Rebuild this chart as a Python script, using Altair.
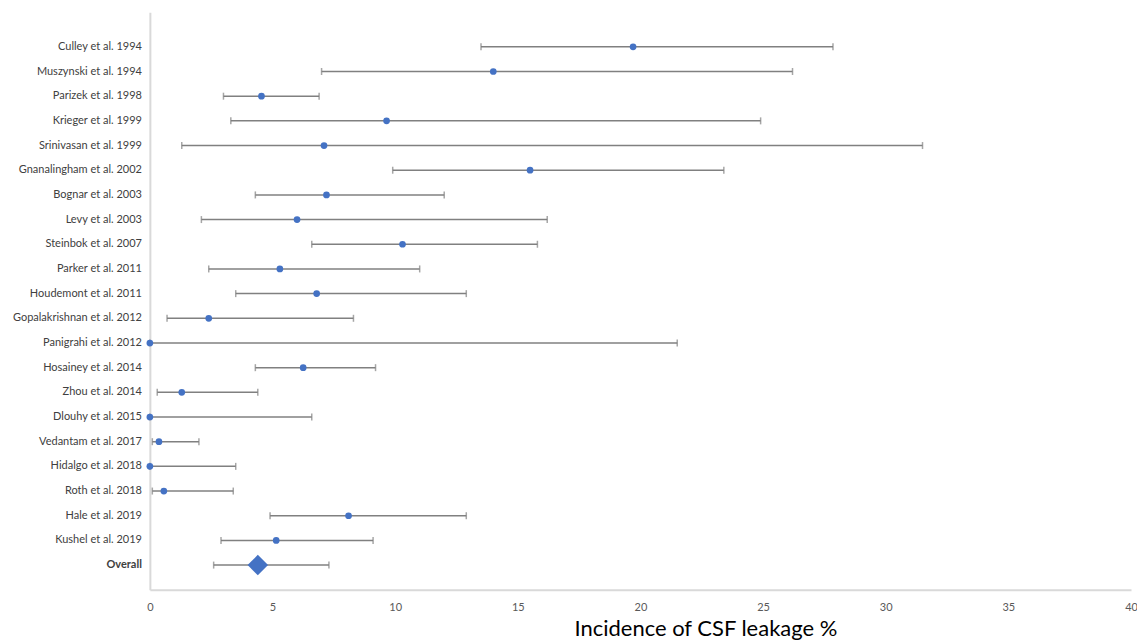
import altair as alt
import pandas as pd

studies = ["Culley et al. 1994", "Muszynski et al. 1994", "Parizek et al. 1998",
           "Krieger et al. 1999", "Srinivasan et al. 1999", "Gnanalingham et al. 2002",
           "Bognar et al. 2003", "Levy et al. 2003", "Steinbok et al. 2007",
           "Parker et al. 2011", "Houdemont et al. 2011", "Gopalakrishnan et al. 2012",
           "Panigrahi et al. 2012", "Hosainey et al. 2014", "Zhou et al. 2014",
           "Dlouhy et al. 2015", "Vedantam et al. 2017", "Hidalgo et al. 2018",
           "Roth et al. 2018", "Hale et al. 2019", "Kushel et al. 2019", "Overall"]
estimate = [19.7, 14.0, 4.55, 9.65, 7.1, 15.5, 7.2, 6.0, 10.3, 5.3, 6.8, 2.4, 0.0,
            6.25, 1.3, 0.0, 0.37, 0.0, 0.57, 8.1, 5.15, 4.4]
lower = [13.5, 7.0, 3.0, 3.3, 1.3, 9.9, 4.3, 2.1, 6.6, 2.4, 3.5, 0.7, 0.0,
         4.3, 0.3, 0.0, 0.1, 0.0, 0.1, 4.9, 2.9, 2.6]
upper = [27.85, 26.2, 6.9, 24.9, 31.5, 23.4, 12.0, 16.2, 15.8, 11.0, 12.9, 8.3, 21.5,
         9.2, 4.4, 6.6, 2.0, 3.5, 3.4, 12.9, 9.1, 7.3]
x_ticks = [0, 5, 10, 15, 20, 25, 30, 35, 40]

n = len(studies)
df = pd.DataFrame({
    "study": studies,
    "est": estimate,
    "lo": lower,
    "hi": upper,
    "row": [n - i for i in range(n)],
    "kind": ["study"] * (n - 1) + ["overall"],
})

x_scale = alt.Scale(domain=[0, 40], nice=False, zero=True)
y_scale = alt.Scale(domain=[0, 23.4], nice=False, zero=True)

x_axis = alt.Axis(values=x_ticks, grid=False, ticks=False, domainColor="#d9d9d9",
                  domainWidth=2, labelColor="#595959", labelFont="Lato", labelFontSize=11,
                  labelPadding=12, labelOverlap=False, labelFlush=False,
                  title="Incidence of CSF leakage %", titleFont="Lato",
                  titleFontSize=22, titleFontWeight="normal", titleColor="#000000",
                  titleX=556, titleY=46, titleBaseline="alphabetic", titleAnchor="middle",
                  titleAlign="center")
y_axis = alt.Axis(values=[], grid=False, ticks=False, labels=False,
                  domainColor="#d9d9d9", domainWidth=2, title=None)

base = alt.Chart(df)

bars = base.mark_rule(color="#808080", strokeWidth=1.5).encode(
    x=alt.X("lo:Q", scale=x_scale, axis=x_axis),
    x2="hi:Q",
    y=alt.Y("row:Q", scale=y_scale, axis=y_axis),
)
cap_lo = base.mark_tick(color="#808080", thickness=1.5, size=7, orient="vertical").encode(
    x=alt.X("lo:Q", scale=x_scale), y=alt.Y("row:Q", scale=y_scale))
cap_hi = base.mark_tick(color="#808080", thickness=1.5, size=7, orient="vertical").encode(
    x=alt.X("hi:Q", scale=x_scale), y=alt.Y("row:Q", scale=y_scale))

points = base.transform_filter("datum.kind == 'study'").mark_point(
    shape="circle", filled=True, color="#4472C4", opacity=1, size=45).encode(
    x=alt.X("est:Q", scale=x_scale), y=alt.Y("row:Q", scale=y_scale))
diamond = base.transform_filter("datum.kind == 'overall'").mark_point(
    shape="diamond", filled=True, color="#4472C4", opacity=1, size=420).encode(
    x=alt.X("est:Q", scale=x_scale), y=alt.Y("row:Q", scale=y_scale))

labels = base.transform_filter("datum.kind == 'study'").mark_text(
    align="right", baseline="middle", font="Lato", fontSize=11, color="#404040").encode(
    x=alt.value(-8), y=alt.Y("row:Q", scale=y_scale), text="study:N")
labels_bold = base.transform_filter("datum.kind == 'overall'").mark_text(
    align="right", baseline="middle", font="Lato", fontSize=11, fontWeight="bold",
    color="#404040").encode(
    x=alt.value(-8), y=alt.Y("row:Q", scale=y_scale), text="study:N")

chart = alt.layer(bars, cap_lo, cap_hi, points, diamond, labels, labels_bold).properties(
    width=982, height=578,
    autosize=alt.AutoSizeParams(type="none"),
    padding={"left": 142, "top": 4, "right": 6, "bottom": 54},
    background="white",
).configure_view(stroke=None)

chart.save("out.html", embed_options={"renderer": "svg", "actions": False})
